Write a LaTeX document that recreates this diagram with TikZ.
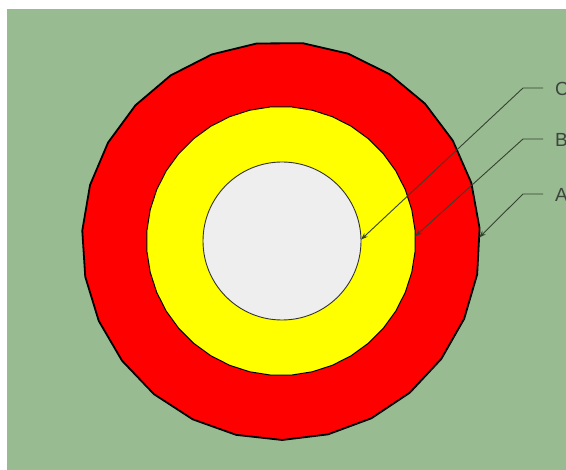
\documentclass[tikz,border=0pt]{standalone}
\usepackage{fontspec}
\setmainfont{Liberation Sans}
\usetikzlibrary{shapes.geometric,arrows.meta}
\definecolor{bggreen}{HTML}{99BB91}
\definecolor{innergray}{HTML}{EEEEEE}
\definecolor{leadcol}{HTML}{34432F}
\definecolor{txtcol}{HTML}{3C463C}
\definecolor{pureyellow}{HTML}{FFFF00}
\tikzset{
  ring/.style={draw=black, inner sep=0pt, outer sep=0pt},
  leader/.style={draw=leadcol, line width=0.9pt, -{Stealth[length=7pt,width=5pt]}},
  lbl/.style={anchor=west, inner sep=0pt, text=txtcol, font=\fontsize{19}{19}\selectfont}
}
\begin{document}
\begin{tikzpicture}[x=1pt,y=-1pt]
\useasboundingbox (0,0) rectangle (566,470);
\clip (0,0) rectangle (566,470);
\fill[white] (0,0) rectangle (566,470);
\fill[bggreen] (7,9) rectangle (566,470);
\node[ring, regular polygon, regular polygon sides=27, shape border rotate=7, minimum size=398pt, fill=red, line width=1.8pt] (outer) at (281,241) {};
\node[ring, regular polygon, regular polygon sides=40, minimum size=269pt, fill=pureyellow, line width=1pt] (mid) at (281,241) {};
\node[ring, circle, minimum size=158pt, fill=innergray, line width=0.9pt, draw=black!80] (inner) at (282,241) {};
\node[lbl] (lC) at (555,89) {C};
\node[lbl] (lB) at (555,140) {B};
\node[lbl] (lA) at (555,195) {A};
\coordinate (hC) at (543,88);  \coordinate (eC) at (523,88);
\coordinate (hB) at (543,139); \coordinate (eB) at (523,139);
\coordinate (hA) at (543,194); \coordinate (eA) at (523,194);
\draw[leader] (hC) -- (eC) -- (inner.1);
\draw[leader] (hB) -- (eB) -- (mid.2);
\draw[leader] (hA) -- (eA) -- (outer.1);
\end{tikzpicture}
\end{document}
